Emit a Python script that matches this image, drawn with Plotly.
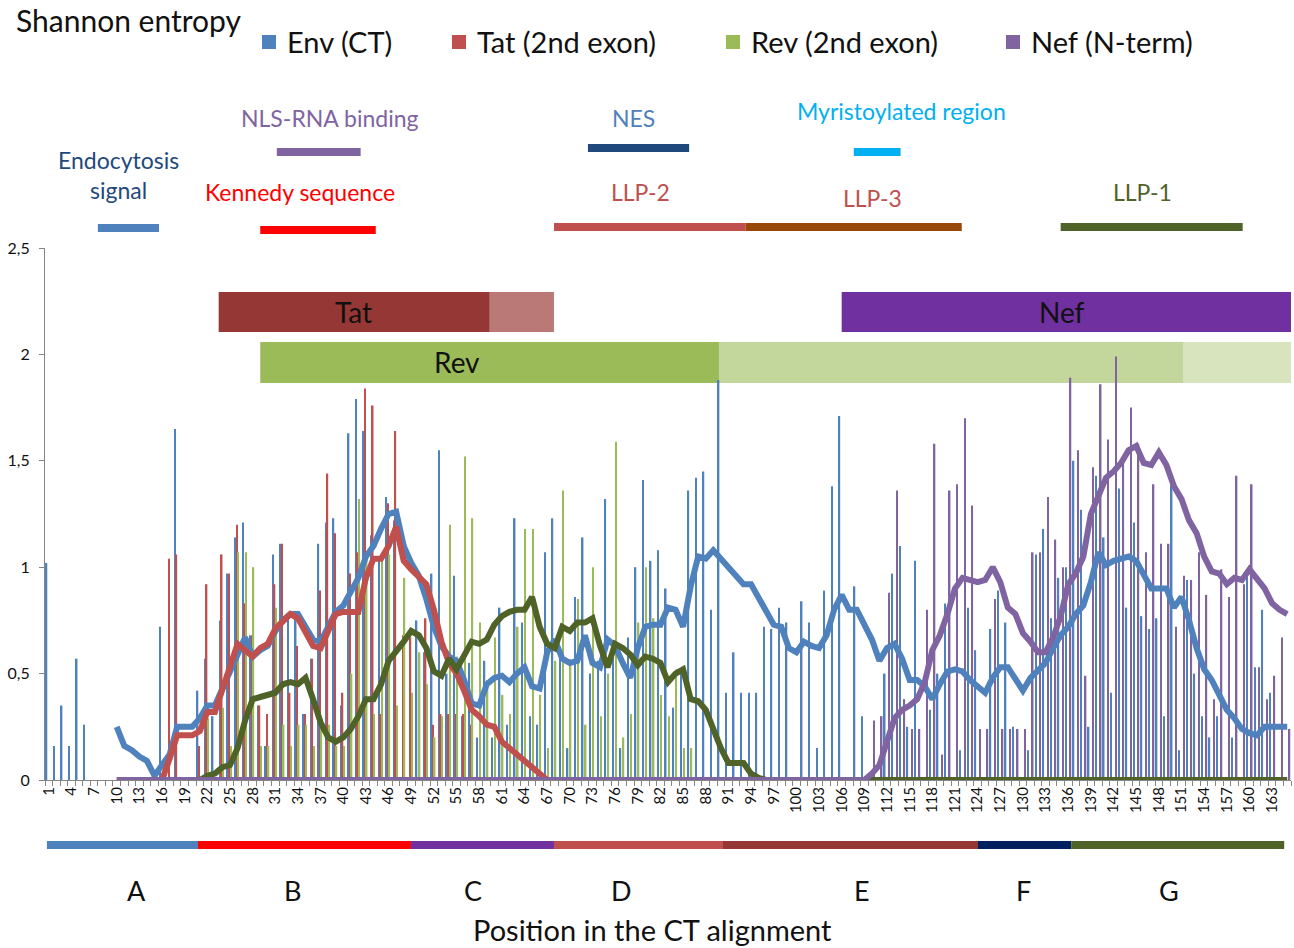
import plotly.graph_objects as go

# ---------------- data ----------------
positions = list(range(1, 166))
tick_positions = list(range(1, 166, 3))
tick_labels = [str(p) for p in tick_positions]

env_bars = [1.02, 0.16, 0.35, 0.16, 0.57, 0.26, 0, 0, 0, 0,
            0, 0, 0, 0, 0, 0.72, 0, 1.65, 0, 0,
            0.42, 0.57, 0.30, 0.75, 0.97, 1.14, 1.21, 0.68, 0.35, 0.16,
            1.06, 1.11, 0.78, 0.78, 0.31, 0.57, 1.11, 1.21, 1.23, 0.35,
            1.63, 1.79, 1.64, 1.15, 1.03, 1.33, 1.22, 0.0, 0.0, 0.75,
            0.60, 0.97, 1.55, 0.50, 0.96, 0.30, 0.55, 0.20, 0.56, 0.20,
            0.81, 0.26, 1.23, 0.74, 0.30, 0.26, 1.07, 1.23, 0.60, 0.15,
            0.86, 1.14, 0.50, 0.56, 1.32, 0.60, 0.15, 0.67, 1.00, 1.41,
            1.03, 1.08, 0.90, 0.34, 0.52, 1.36, 1.42, 1.45, 0.80, 1.88,
            0.41, 0.60, 0.41, 0.41, 0.41, 0.72, 0.71, 0.81, 0.74, 0,
            0.84, 0.74, 0.15, 0.89, 1.38, 1.71, 0, 0.91, 0.30, 0,
            0, 0.50, 0.97, 1.10, 0.25, 1.03, 0, 0.33, 0.50, 0.83,
            0, 0.14, 0.81, 0.61, 0, 0.71, 0.89, 0.74, 0.25, 0,
            0.14, 1.06, 1.18, 0.76, 0.95, 1.00, 1.50, 1.27, 0.25, 1.43,
            1.14, 0.41, 1.37, 0.81, 1.21, 0.77, 0.71, 0.76, 0.30, 1.39,
            0.14, 0.94, 0.50, 0.30, 0.20, 0.30, 0, 0.20, 0, 0.96,
            0.53, 0.80, 0.41, 0, 0]

tat_bars = [0, 0, 0, 0, 0, 0, 0, 0, 0, 0,
            0, 0, 0, 0, 0, 0, 1.04, 1.06, 0, 0,
            0.16, 0.92, 0, 1.06, 0.97, 1.20, 0.83, 0.68, 0.35, 0.31,
            0.92, 1.11, 0.41, 0.63, 0.31, 0.57, 0.89, 1.44, 1.16, 0.41,
            0.97, 1.07, 1.84, 1.76, 0.31, 1.30, 1.64, 0.68, 0.67, 0,
            0.76, 0.26, 0.31, 0.31, 0.31, 0.31, 0.26] + [0] * 108

rev_bars = [0] * 21 + [
            0.29, 0, 0.34, 0.16, 1.07, 1.07, 1.00, 0.16, 0.16,
            0.81, 0.26, 0.16, 0.26, 0.26, 0.16, 0.26, 0.26, 0.16, 0.16,
            0.50, 1.32, 1.07, 0.31, 1.03, 1.06, 0.35, 0.95, 0.41, 0.60,
            0.45, 0.20, 0.30, 1.20, 0.58, 1.52, 1.23, 0.74, 0.47, 0.67,
            0.40, 0.31, 0.72, 1.18, 1.18, 0.40, 0.15, 0.56, 1.36, 0.54,
            0.85, 0.26, 1.00, 0.30, 0.50, 1.59, 0.20, 0.31, 0.74, 1.00,
            0.76, 0.40, 0.30, 0.52, 0.15, 0.15] + [0] * 79

nef_bars = [0] * 109 + [
            0.28, 0.30, 0.88, 1.36, 0.38, 0.24, 0.24, 0.80, 1.58, 0.12,
            1.36, 1.39, 1.70, 1.29, 0.24, 0.24, 0.85, 0.24, 0.24, 0.24,
            0.24, 1.07, 1.07, 1.33, 1.13, 1.00, 1.89, 1.55, 0.49, 1.47,
            1.86, 1.60, 1.99, 1.50, 1.75, 1.58, 1.07, 1.39, 1.11, 1.11,
            0.72, 0.96, 0.94, 1.07, 0.87, 0.38, 0.99, 0.86, 1.43, 0.92,
            1.39, 0.53, 0.38, 0.49, 0.67, 0.24]

# smoothed profiles (lines)
env_line_x = list(range(10, 166))
env_line = [0.25, 0.16, 0.14, 0.11, 0.09, 0.02, 0.07, 0.12, 0.25, 0.25,
            0.25, 0.29, 0.35, 0.35, 0.43, 0.52, 0.60, 0.67, 0.58, 0.61,
            0.63, 0.70, 0.75, 0.78, 0.78, 0.72, 0.66, 0.65, 0.72, 0.79,
            0.82, 0.88, 0.95, 1.05, 1.10, 1.18, 1.25, 1.26, 1.10, 1.02,
            0.96, 0.85, 0.72, 0.63, 0.58, 0.56, 0.47, 0.36, 0.35, 0.45,
            0.48, 0.49, 0.46, 0.50, 0.53, 0.44, 0.43, 0.60, 0.66, 0.57,
            0.55, 0.56, 0.68, 0.55, 0.53, 0.66, 0.63, 0.55, 0.48, 0.62,
            0.72, 0.73, 0.73, 0.81, 0.80, 0.72, 0.91, 1.05, 1.04, 1.08,
            1.04, 1.00, 0.95, 0.92, 0.92, 0.86, 0.80, 0.73, 0.72, 0.62,
            0.60, 0.65, 0.63, 0.62, 0.68, 0.80, 0.87, 0.80, 0.80, 0.73,
            0.66, 0.56, 0.62, 0.64, 0.57, 0.47, 0.47, 0.44, 0.38, 0.45,
            0.51, 0.52, 0.51, 0.47, 0.44, 0.41, 0.48, 0.53, 0.53, 0.47,
            0.42, 0.48, 0.52, 0.55, 0.62, 0.68, 0.72, 0.78, 0.82, 0.93,
            1.07, 1.01, 1.03, 1.04, 1.05, 1.03, 0.97, 0.90, 0.90, 0.90,
            0.81, 0.86, 0.75, 0.62, 0.52, 0.47, 0.40, 0.33, 0.29, 0.24,
            0.22, 0.21, 0.25, 0.25, 0.25, 0.25]

tat_line_x = list(range(10, 68))
tat_line = [0, 0, 0, 0, 0, 0, 0, 0.10, 0.21, 0.21,
            0.21, 0.23, 0.32, 0.32, 0.42, 0.53, 0.64, 0.61, 0.58, 0.62,
            0.64, 0.71, 0.75, 0.78, 0.76, 0.70, 0.63, 0.62, 0.70, 0.78,
            0.79, 0.79, 0.79, 0.95, 1.04, 1.04, 1.10, 1.19, 1.03, 0.99,
            0.95, 0.92, 0.80, 0.65, 0.55, 0.50, 0.42, 0.33, 0.30, 0.26,
            0.25, 0.18, 0.15, 0.12, 0.09, 0.06, 0.03, 0.0]

rev_line_x = list(range(21, 166))
rev_line = [0.0, 0.02, 0.03, 0.06, 0.07, 0.15, 0.28, 0.38, 0.39,
            0.40, 0.41, 0.45, 0.46, 0.45, 0.48, 0.38, 0.27, 0.20, 0.18,
            0.20, 0.24, 0.30, 0.38, 0.38, 0.45, 0.56, 0.60, 0.65, 0.70,
            0.68, 0.62, 0.51, 0.49, 0.57, 0.52, 0.58, 0.65, 0.64, 0.66,
            0.73, 0.77, 0.79, 0.80, 0.80, 0.86, 0.72, 0.64, 0.62, 0.72,
            0.70, 0.74, 0.74, 0.76, 0.63, 0.53, 0.64, 0.62, 0.59, 0.54,
            0.58, 0.57, 0.55, 0.46, 0.50, 0.52, 0.38, 0.37, 0.33, 0.24,
            0.15, 0.08, 0.08, 0.08, 0.03, 0.01] + [0.0] * 70

nef_line_x = list(range(10, 166))
nef_line = [0.0] * 100 + [
            0.03, 0.07, 0.18, 0.29, 0.33, 0.35, 0.38, 0.46, 0.61, 0.68,
            0.78, 0.90, 0.95, 0.94, 0.93, 0.94, 1.00, 0.93, 0.81, 0.78,
            0.69, 0.65, 0.60, 0.60, 0.67, 0.77, 0.92, 0.97, 1.05, 1.25,
            1.33, 1.42, 1.45, 1.49, 1.55, 1.57, 1.49, 1.48, 1.54, 1.48,
            1.38, 1.32, 1.22, 1.16, 1.05, 0.98, 0.97, 0.92, 0.95, 0.94,
            0.99, 0.95, 0.90, 0.83, 0.80, 0.78]

series_names = ['Env (CT)', 'Tat (2nd exon)', 'Rev (2nd exon)', 'Nef (N-term)']

# functional features (start / end positions in the alignment)
feature_labels = ['Endocytosis<br>signal', 'NLS-RNA binding', 'Kennedy sequence', 'NES',
                  'Myristoylated region', 'LLP-2', 'LLP-3', 'LLP-1']
feature_start = [7.5, 31.2, 29.0, 72.4, 107.6, 67.9, 93.3, 135.0]
feature_end = [15.6, 42.3, 44.3, 85.8, 113.8, 93.3, 121.9, 159.1]

# protein coverage boxes
tat_start, tat_mid, tat_end = 23.5, 59.4, 67.9
nef_start, nef_end = 106.0, 165.5
rev_start, rev_mid1, rev_mid2, rev_end = 29.0, 89.75, 151.2, 165.5
box_label_pos = [41.3, 135.2, 55.1]

# regions A-G
region_letters = ['A', 'B', 'C', 'D', 'E', 'F', 'G']
region_bounds = [0.75, 20.76, 48.96, 67.9, 90.28, 124.05, 136.4, 164.6]
region_letter_pos = [12.55, 33.3, 57.2, 76.9, 108.7, 130.1, 149.3]

# ---------------- styling ----------------
C_ENV = '#4F81BD'
C_TAT = '#C0504D'
C_REV = '#9BBB59'
C_REV_LINE = '#4F6228'
C_NEF = '#8064A2'
FONT = 'Lato, "Open Sans", sans-serif'

W, H = 1294, 948
ML, MR, MT, MB = 45, 3, 248, 168
PLOT_W = W - ML - MR
PLOT_H = H - MT - MB


def ypix(py):
    return (H - MB - py) / PLOT_H


def xpix(px):
    return (px - ML) / PLOT_W


fig = go.Figure()

for name, vals, col in zip(series_names, [env_bars, tat_bars, rev_bars, nef_bars],
                           [C_ENV, C_TAT, C_REV, C_NEF]):
    fig.add_trace(go.Bar(x=positions, y=vals, name=name, marker_color=col,
                         marker_line_width=0, showlegend=False))

for xs, ys, col in [(env_line_x, env_line, C_ENV), (tat_line_x, tat_line, C_TAT),
                    (rev_line_x, rev_line, C_REV_LINE), (nef_line_x, nef_line, C_NEF)]:
    fig.add_trace(go.Scatter(x=xs, y=ys, mode='lines', showlegend=False,
                             line=dict(color=col, width=6)))

shapes = []
annotations = []

# protein boxes inside the plot
box_specs = [
    (tat_start, tat_mid, 2.105, 2.293, '#953735'),
    (tat_mid, tat_end, 2.105, 2.293, '#BA7876'),
    (nef_start, nef_end, 2.105, 2.293, '#7030A0'),
    (rev_start, rev_mid1, 1.866, 2.058, '#9BBB59'),
    (rev_mid1, rev_mid2, 1.866, 2.058, '#C3D69B'),
    (rev_mid2, rev_end, 1.866, 2.058, '#D7E4BD'),
]
for x0, x1, y0, y1, col in box_specs:
    shapes.append(dict(type='rect', xref='x', yref='y', x0=x0, x1=x1, y0=y0, y1=y1,
                       fillcolor=col, line=dict(width=0), layer='below'))
for txt, xc, yc in zip(['Tat', 'Nef', 'Rev'], box_label_pos, [2.199, 2.199, 1.962]):
    annotations.append(dict(text=txt, x=xc, y=yc, xref='x', yref='y', showarrow=False,
                            font=dict(family=FONT, size=28, color='#111111')))

# feature bars above the plot
feat_bar_colors = ['#4F81BD', '#8064A2', '#FF0000', '#1F497D', '#00B0F0', '#C0504D', '#984807', '#4F6228']
feat_bar_rows = [228, 152, 230, 148, 152, 227, 227, 227]
feat_label_colors = ['#1F497D', '#8064A2', '#FF0000', '#4F81BD', '#00B0F0', '#C0504D', '#C0504D', '#4F6228']
feat_label_px = [118, 330, 300, 633, 901, 640, 872, 1142]
feat_label_py = [175, 118, 192, 118, 111, 192, 198, 192]
for i in range(len(feature_labels)):
    r = feat_bar_rows[i]
    shapes.append(dict(type='rect', xref='x', yref='paper', x0=feature_start[i], x1=feature_end[i],
                       y0=ypix(r + 4), y1=ypix(r - 4), fillcolor=feat_bar_colors[i], line=dict(width=0)))
    annotations.append(dict(text=feature_labels[i], xref='paper', yref='paper',
                            x=xpix(feat_label_px[i]), y=ypix(feat_label_py[i]), showarrow=False,
                            font=dict(family=FONT, size=23, color=feat_label_colors[i]),
                            xanchor='center', yanchor='middle'))

# regions A-G below axis
region_colors = ['#4F81BD', '#FF0000', '#7030A0', '#C0504D', '#953735', '#002060', '#4F6228']
for i, letter in enumerate(region_letters):
    shapes.append(dict(type='rect', xref='x', yref='paper', x0=region_bounds[i], x1=region_bounds[i + 1],
                       y0=ypix(849), y1=ypix(841), fillcolor=region_colors[i], line=dict(width=0)))
    annotations.append(dict(text=letter, xref='x', yref='paper', x=region_letter_pos[i], y=ypix(890),
                            showarrow=False, font=dict(family=FONT, size=27, color='#111111'),
                            xanchor='center', yanchor='middle'))

# axis title
annotations.append(dict(text='Position in the CT alignment', xref='paper', yref='paper',
                        x=xpix(652), y=ypix(929), showarrow=False, xanchor='center', yanchor='middle',
                        font=dict(family=FONT, size=29, color='#111111')))
# y title
annotations.append(dict(text='Shannon entropy', xref='paper', yref='paper',
                        x=xpix(14), y=ypix(20), showarrow=False, xanchor='left', yanchor='middle',
                        font=dict(family=FONT, size=30, color='#111111')))

# manual legend
legend_px = [262, 452, 726, 1006]
for name, col, lx in zip(series_names, [C_ENV, C_TAT, C_REV, C_NEF], legend_px):
    shapes.append(dict(type='rect', xref='paper', yref='paper', x0=xpix(lx), x1=xpix(lx + 14),
                       y0=ypix(49), y1=ypix(35), fillcolor=col, line=dict(width=0)))
    annotations.append(dict(text=name, xref='paper', yref='paper', x=xpix(lx + 23), y=ypix(42),
                            showarrow=False, xanchor='left', yanchor='middle',
                            font=dict(family=FONT, size=29, color='#111111')))

fig.update_layout(
    width=W, height=H, autosize=False,
    margin=dict(l=ML, r=MR, t=MT, b=MB),
    plot_bgcolor='white', paper_bgcolor='white',
    barmode='group', bargap=0.2, bargroupgap=0.0,
    shapes=shapes, annotations=annotations,
    font=dict(family=FONT, color='#111111'),
    xaxis=dict(range=[0.5, 165.5], showgrid=False, zeroline=False,
               showline=True, linecolor='#868686', linewidth=1,
               tickmode='array', tickvals=tick_positions, ticktext=tick_labels,
               tickangle=-90, ticks='', tickfont=dict(family=FONT, size=15, color='#111111'),
               minor=dict(ticks='outside', tick0=0.5, dtick=1, ticklen=5,
                          tickcolor='#868686', showgrid=False)),
    yaxis=dict(range=[0, 2.5], showgrid=False, zeroline=False,
               showline=True, linecolor='#868686', linewidth=1,
               tickmode='array', tickvals=[0, 0.5, 1, 1.5, 2, 2.5],
               ticktext=['0', '0,5', '1', '1,5', '2', '2,5'],
               ticks='outside', ticklen=5, tickcolor='#868686', ticklabelstandoff=6,
               tickfont=dict(family=FONT, size=16, color='#111111')),
)

fig.write_html('out.html')
